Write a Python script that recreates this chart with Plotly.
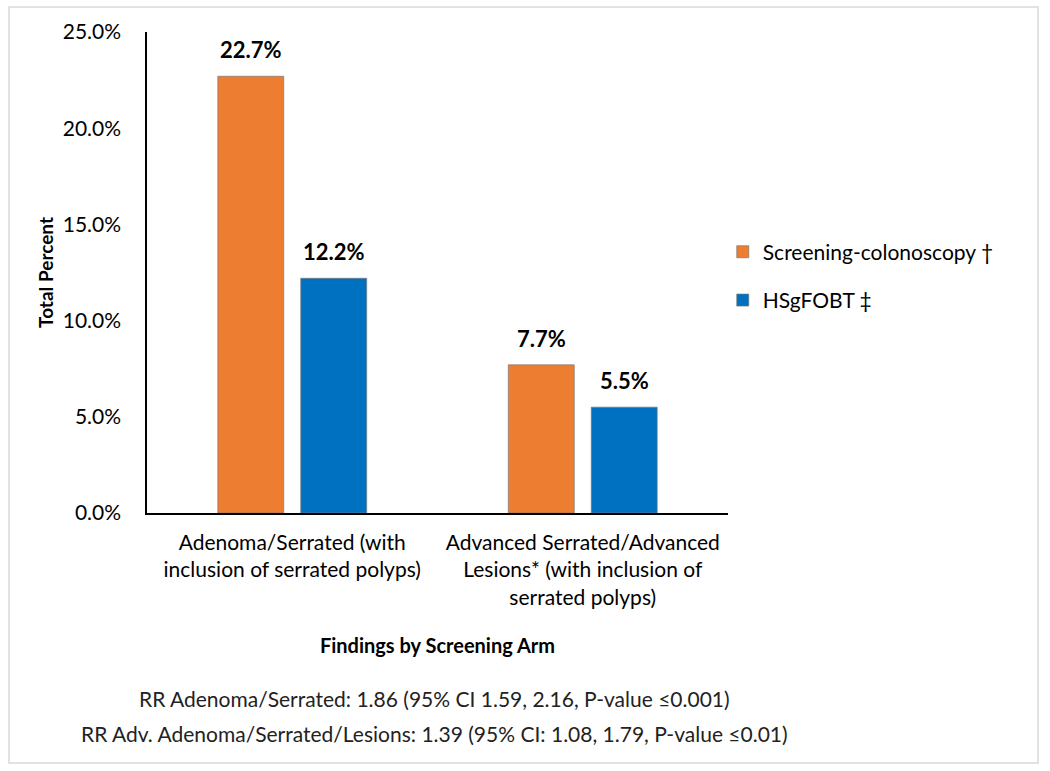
import plotly.graph_objects as go

categories = ["Adenoma/Serrated (with<br>inclusion of serrated polyps)",
              "Advanced Serrated/Advanced<br>Lesions* (with inclusion of<br>serrated polyps)"]
series_names = ["Screening-colonoscopy \u2020", "HSgFOBT \u2021"]
colonoscopy = [0.227, 0.077]
hsgfobt = [0.122, 0.055]
colors = ["#ED7D31", "#0070C0"]
y_ticks = [0, 0.05, 0.10, 0.15, 0.20, 0.25]
notes = ["RR Adenoma/Serrated: 1.86 (95% CI 1.59, 2.16, P-value \u22640.001)",
         "RR Adv. Adenoma/Serrated/Lesions: 1.39 (95% CI: 1.08, 1.79, P-value \u22640.01)"]

FONT = "Lato, 'Open Sans', sans-serif"

fig = go.Figure()
for i, (name, vals) in enumerate(zip(series_names, [colonoscopy, hsgfobt])):
    fig.add_trace(go.Bar(
        x=categories, y=vals, name=name, legendgroup=name,
        marker=dict(color=colors[i], line=dict(color="rgba(120,120,120,0.7)", width=1)),
        hoverinfo="x+y",
    ))
    shift = -41.5 if i == 0 else 41.5
    for c, v in zip(categories, vals):
        fig.add_annotation(x=c, y=v, xref="x", yref="y", text=f"<b>{v*100:.1f}%</b>",
                           showarrow=False, xshift=shift, yshift=11, yanchor="bottom",
                           font=dict(family=FONT, size=22, color="black"))

for k, t in enumerate(notes):
    fig.add_annotation(x=0.495, y=[-0.385, -0.459][k], xref="paper", yref="paper", text=t,
                       showarrow=False, xanchor="center", yanchor="middle",
                       font=dict(family=FONT, size=21, color="#222222"))

# outer frame
fig.add_shape(type="rect", xref="paper", yref="paper",
              x0=(9-147)/581, x1=(1038-147)/581, y0=(513-763)/481, y1=(513-7)/481,
              line=dict(color="#d9d9d9", width=1.5), fillcolor="rgba(0,0,0,0)", layer="below")

fig.update_layout(
    width=1050, height=771,
    margin=dict(l=147, r=322, t=32, b=258, autoexpand=False),
    paper_bgcolor="white", plot_bgcolor="white",
    barmode="group", bargap=0.429, bargroupgap=0.205,
    font=dict(family=FONT, size=21, color="black"),
    showlegend=True,
    legend=dict(x=0.991, y=0.585, xanchor="left", yanchor="top",
                traceorder="grouped", tracegroupgap=18,
                font=dict(family=FONT, size=21, color="black"),
                bgcolor="rgba(0,0,0,0)"),
    xaxis=dict(range=[-0.5, 1.5], showline=True, linecolor="black", linewidth=1.5,
               ticks="", showgrid=False, ticklabelstandoff=10,
               tickfont=dict(family=FONT, size=21, color="black"),
               title=dict(text="<b>Findings by Screening Arm</b>", standoff=31,
                          font=dict(family=FONT, size=20, color="black"))),
    yaxis=dict(range=[0, 0.25], tickvals=y_ticks, tickformat=".1%", showline=True,
               linecolor="black", linewidth=1.5, ticks="", showgrid=False, zeroline=False,
               ticklabelstandoff=20, tickfont=dict(family=FONT, size=21, color="black"),
               title=dict(text="<b>Total Percent</b>", standoff=4,
                          font=dict(family=FONT, size=19, color="black"))),
)

fig.write_html("out.html", config={"displayModeBar": False},
               post_script="document.body.style.margin='0';")
